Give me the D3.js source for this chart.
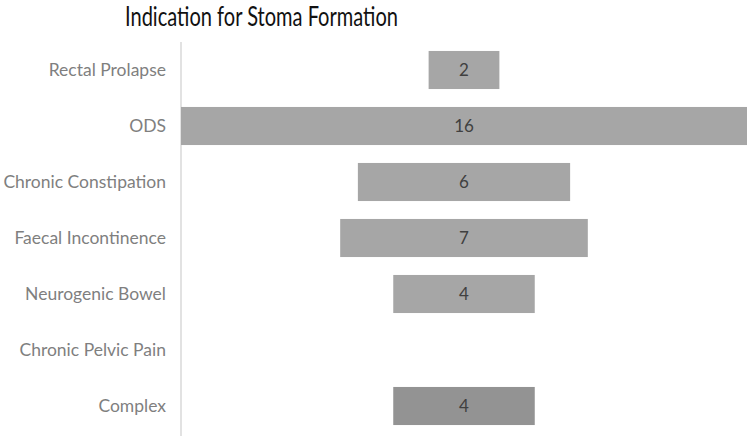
<!DOCTYPE html>
<html>
<head>
<meta charset="utf-8">
<script src="https://cdn.jsdelivr.net/npm/d3@7"></script>
<style>
  body { margin: 0; background: #fff; }
</style>
</head>
<body>
<script>
'use strict';

const categories = ["Rectal Prolapse", "ODS", "Chronic Constipation", "Faecal Incontinence",
  "Neurogenic Bowel", "Chronic Pelvic Pain", "Complex"];
const counts = [2, 16, 6, 7, 4, 0, 4];
const title = "Indication for Stoma Formation";

(function() {
  const width = 749, height = 436;
  const font = "Lato, 'Open Sans', sans-serif";

  const svg = d3.select("body").append("svg")
    .attr("width", width)
    .attr("height", height);

  const maxVal = d3.max(counts);
  const x = d3.scaleLinear()
    .domain([-maxVal / 2, maxVal / 2])
    .range([181, 747]);

  const y = d3.scaleBand()
    .domain(categories)
    .range([42, 434])
    .paddingInner(0.32)
    .paddingOuter(0.16);

  const rows = categories.map((c, i) => ({ name: c, value: counts[i] }));

  // title
  svg.append("text")
    .attr("x", 125)
    .attr("y", 26)
    .attr("textLength", 273)
    .attr("lengthAdjust", "spacingAndGlyphs")
    .style("font-family", "'Liberation Sans Narrow', " + font)
    .style("font-size", "26px")
    .style("fill", "#111")
    .text(title);

  // category axis line
  svg.append("line")
    .attr("x1", 181).attr("x2", 181)
    .attr("y1", 42).attr("y2", height)
    .attr("stroke", "#d9d9d9")
    .attr("stroke-width", 1.5);

  const yAxis = d3.axisLeft(y).tickSize(0).tickPadding(15);
  const gAxis = svg.append("g")
    .attr("transform", "translate(181,0)")
    .call(yAxis);
  gAxis.select(".domain").remove();
  gAxis.selectAll("text")
    .style("font-family", font)
    .style("font-size", "17.5px")
    .style("fill", "#7f7f7f");

  const bars = rows.filter(d => d.value > 0);

  svg.selectAll(".bar")
    .data(bars)
    .enter()
    .append("rect")
      .attr("class", "bar")
      .attr("x", d => x(-d.value / 2))
      .attr("y", d => y(d.name))
      .attr("width", d => x(d.value / 2) - x(-d.value / 2))
      .attr("height", y.bandwidth())
      .attr("fill", d => d.name === "Complex" ? "#939393" : "#a6a6a6");

  svg.selectAll(".val")
    .data(bars)
    .enter()
    .append("text")
      .attr("class", "val")
      .attr("x", d => x(0))
      .attr("y", d => y(d.name) + y.bandwidth() / 2)
      .attr("dy", "0.36em")
      .attr("text-anchor", "middle")
      .style("font-family", font)
      .style("font-size", "17px")
      .style("fill", "#404040")
      .text(d => d.value);
})();
</script>
</body>
</html>
